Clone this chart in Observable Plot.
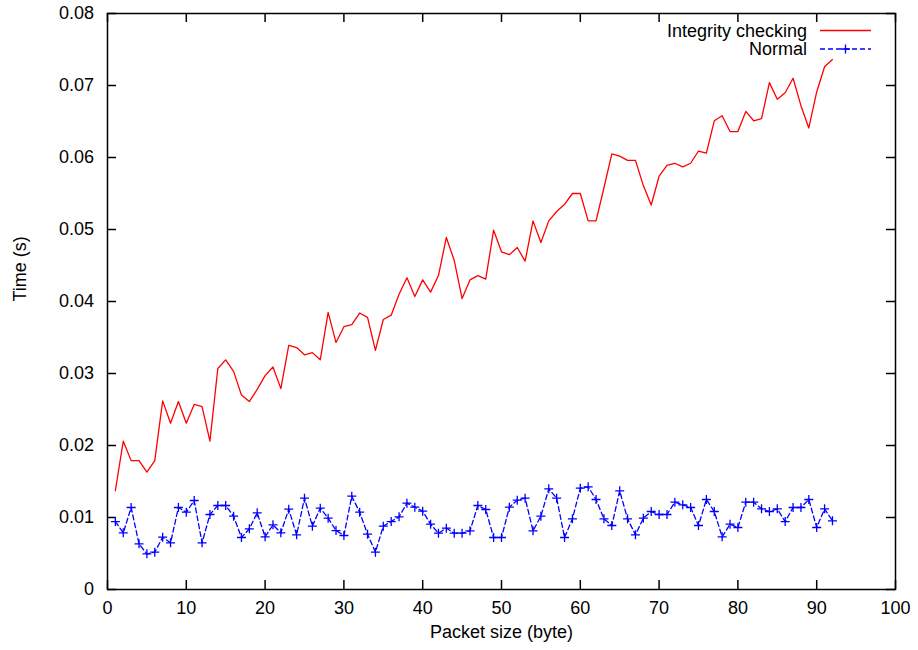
<!DOCTYPE html>
<html>
<head>
<meta charset="utf-8">
<script src="https://cdn.jsdelivr.net/npm/d3@7"></script>
<script src="https://cdn.jsdelivr.net/npm/@observablehq/plot@0.6"></script>
<style>
  html, body { margin: 0; padding: 0; background: #fff; }
  #chart svg { display: block; }
</style>
</head>
<body>
<div id="chart"></div>
<script>
const packetSize = [1,2,3,4,5,6,7,8,9,10,11,12,13,14,15,16,17,18,19,20,21,22,23,24,25,26,27,28,29,30,31,32,33,34,35,36,37,38,39,40,41,42,43,44,45,46,47,48,49,50,51,52,53,54,55,56,57,58,59,60,61,62,63,64,65,66,67,68,69,70,71,72,73,74,75,76,77,78,79,80,81,82,83,84,85,86,87,88,89,90,91,92];

const integrityChecking = [
  0.01375,0.0206,0.0179,0.0179,0.0163,0.0179,0.0262,0.0231,0.0261,0.0231,
  0.0257,0.0254,0.0206,0.0307,0.0319,0.0303,0.0270,0.0261,0.0278,0.0297,
  0.0309,0.0279,0.0339,0.0336,0.0326,0.0329,0.0319,0.0385,0.0343,0.0365,
  0.0368,0.0384,0.0378,0.0332,0.0375,0.0381,0.0410,0.0433,0.0407,0.0430,
  0.0413,0.0436,0.0489,0.0457,0.0404,0.0430,0.0436,0.0431,0.0499,0.0469,
  0.0465,0.0475,0.0456,0.0512,0.0482,0.0512,0.0525,0.0535,0.0550,0.0550,
  0.0512,0.0512,0.0558,0.0605,0.0602,0.0596,0.0596,0.0561,0.0534,0.0574,
  0.0589,0.0592,0.0587,0.0592,0.0609,0.0606,0.0651,0.0658,0.0636,0.0636,
  0.0664,0.0651,0.0654,0.0704,0.0681,0.0690,0.0710,0.0672,0.0641,0.0691,
  0.0726,0.0736
];

const normal = [
  0.00944,0.00787,0.01139,0.00634,0.00495,0.00519,0.00727,0.00648,0.01139,0.01074,
  0.01236,0.00648,0.01042,0.01167,0.01167,0.01019,0.00722,0.00843,0.01065,0.00731,
  0.00898,0.00787,0.01116,0.00759,0.01269,0.00880,0.01130,0.00991,0.00819,0.00750,
  0.01296,0.01074,0.00769,0.00519,0.00880,0.00944,0.01009,0.01199,0.01144,0.01088,
  0.00907,0.00782,0.00852,0.00782,0.00782,0.00815,0.01167,0.01111,0.00722,0.00722,
  0.01144,0.01241,0.01269,0.00815,0.01019,0.01398,0.01269,0.00722,0.00981,0.01407,
  0.01426,0.01250,0.00981,0.00889,0.01370,0.00981,0.00759,0.00991,0.01083,0.01042,
  0.01042,0.01213,0.01176,0.01139,0.00889,0.01250,0.01083,0.00731,0.00907,0.00861,
  0.01213,0.01213,0.01120,0.01083,0.01120,0.00944,0.01139,0.01139,0.01250,0.00861,
  0.01120,0.00954
];

const seriesNames = ["Integrity checking", "Normal"];
const xTicks = [0,10,20,30,40,50,60,70,80,90,100];
const xTickLabels = ["0","10","20","30","40","50","60","70","80","90","100"];
const yTicks = [0,0.01,0.02,0.03,0.04,0.05,0.06,0.07,0.08];
const yTickLabels = ["0","0.01","0.02","0.03","0.04","0.05","0.06","0.07","0.08"];
const xLabel = "Packet size (byte)";
const yLabel = "Time (s)";

const redData = packetSize.map((x, i) => ({x, y: integrityChecking[i]}));
const blueData = packetSize.map((x, i) => ({x, y: normal[i]}));

const plusSymbol = {
  draw(context, size) {
    const r = Math.sqrt(size / Math.PI);
    context.moveTo(-r, 0); context.lineTo(r, 0);
    context.moveTo(0, -r); context.lineTo(0, r);
  }
};

const W = 918, H = 650;
const mL = 107, mR = 23, mT = 13, mB = 61;
const fw = W - mL - mR, fh = H - mT - mB;
const tickLen = 9;
const FONT = "'Liberation Sans', Arial, sans-serif";
const FS = "18px";

const plot = Plot.plot({
  width: W, height: H,
  marginLeft: mL, marginRight: mR, marginTop: mT, marginBottom: mB,
  x: {domain: [0, 100]},
  y: {domain: [0, 0.08]},
  style: {fontFamily: FONT, fontSize: FS, color: "black", background: "white"},
  marks: [
    Plot.tickX(xTicks, {x: d => d, insetTop: fh - tickLen, stroke: "black", strokeWidth: 1.5}),
    Plot.tickX(xTicks, {x: d => d, insetBottom: fh - tickLen, stroke: "black", strokeWidth: 1.5}),
    Plot.tickY(yTicks, {y: d => d, insetRight: fw - tickLen, stroke: "black", strokeWidth: 1.5}),
    Plot.tickY(yTicks, {y: d => d, insetLeft: fw - tickLen, stroke: "black", strokeWidth: 1.5}),
    Plot.axisX(xTicks, {tickSize: 0, tickPadding: 12, tickFormat: d => xTickLabels[xTicks.indexOf(d)], label: null}),
    Plot.axisY(yTicks, {tickSize: 0, tickPadding: 13.5, tickFormat: d => yTickLabels[yTicks.indexOf(d)], label: null}),
    Plot.line(redData, {x: "x", y: "y", stroke: "#ff0000", strokeWidth: 1.3}),
    Plot.line(blueData, {x: "x", y: "y", stroke: "#0000ff", strokeWidth: 1.3, strokeDasharray: "5,3"}),
    Plot.dot(blueData, {x: "x", y: "y", symbol: plusSymbol, r: 4.5, stroke: "#0000ff", fill: "none", strokeWidth: 1.3}),
    Plot.frame({stroke: "black", strokeWidth: 1.5}),
    Plot.text([xLabel], {frameAnchor: "bottom", dy: 48, text: d => d, fill: "black"}),
    Plot.text([yLabel], {frameAnchor: "left", dx: -87, rotate: -90, text: d => d, fill: "black"})
  ]
});

document.getElementById("chart").appendChild(plot);

// Legend (gnuplot-style, top right inside the frame)
const svg = d3.select(plot);
const lg = svg.append("g")
  .attr("font-family", FONT)
  .attr("font-size", FS);
const legendColors = ["#ff0000", "#0000ff"];
const rowsY = [30.5, 49];
seriesNames.forEach((name, i) => {
  lg.append("text").attr("x", 807).attr("y", rowsY[i] + 6).attr("text-anchor", "end").attr("fill", "black").text(name);
  const ln = lg.append("line").attr("x1", 820).attr("x2", 871).attr("y1", rowsY[i]).attr("y2", rowsY[i])
    .attr("stroke", legendColors[i]).attr("stroke-width", 1.3);
  if (i === 1) {
    ln.attr("stroke-dasharray", "5,3");
    lg.append("path").attr("d", `M841,${rowsY[i]}h9M845.5,${rowsY[i]-4.5}v9`).attr("stroke", legendColors[i]).attr("stroke-width", 1.3);
  }
});
</script>
</body>
</html>
